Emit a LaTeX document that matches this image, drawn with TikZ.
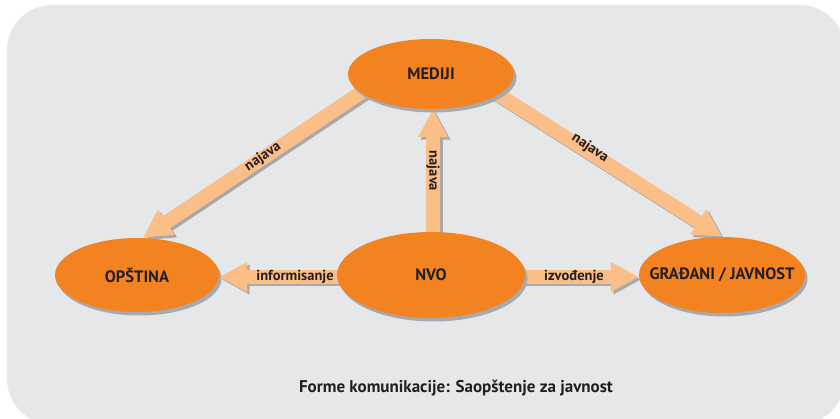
\documentclass[tikz,border=0pt]{standalone}
\usepackage{fontspec}
\setmainfont{PT Sans}
\usetikzlibrary{arrows.meta,shadows,shapes.geometric,calc}
\definecolor{bgc}{HTML}{E6E7E8}
\definecolor{orng}{HTML}{F38221}
\definecolor{peach}{HTML}{FBBE86}
\definecolor{shd}{HTML}{A7A9AC}
\definecolor{txt}{HTML}{231F20}
\pgfdeclarelayer{back}
\pgfsetlayers{back,main}
\begin{document}
\begin{tikzpicture}[x=1pt,y=-1pt,
  ell/.style={ellipse, fill=orng, draw=none, text=txt, inner sep=0pt,
    font=\bfseries\fontsize{16.5}{19}\selectfont,
    drop shadow={shadow xshift=2.5pt, shadow yshift=-3.5pt, fill=shd, opacity=1}},
  fatarrow/.style={line width=14pt, draw=peach, shorten <=-12pt,
    -{Triangle[length=28pt,width=28pt]}},
  fatshadow/.style={line width=14pt, draw=shd, shorten <=-12pt,
    -{Triangle[length=28pt,width=28pt]},
    transform canvas={shift={(2.5pt,-2.5pt)}}},
  lbl/.style={font=\bfseries\fontsize{14.5}{16}\selectfont, text=txt, inner sep=0pt},
]
\useasboundingbox (0,0) rectangle (840,419);

\node[ell, minimum width=166pt, minimum height=70pt] (mediji) at (431,74) {\makebox[0pt]{MEDIJI}};
\node[ell, minimum width=164pt, minimum height=74pt] (opstina) at (137,275) {\makebox[0pt]{OPŠTINA}};
\node[ell, minimum width=188pt, minimum height=86pt] (nvo) at (431,275) {\makebox[0pt]{NVO}};
\node[ell, minimum width=166pt, minimum height=76pt] (gradjani) at (722,275) {\makebox[0pt]{GRAĐANI / JAVNOST}};

\begin{pgfonlayer}{back}
  \fill[bgc, rounded corners=45pt] (7,5) rectangle (845,424);
  \draw[fatshadow] ([yshift=-2pt]nvo.west) -- ([yshift=-2pt]opstina.east);
  \draw[fatshadow] ([yshift=-2pt]nvo.east) -- ([yshift=-2pt]gradjani.west);
  \draw[fatshadow] ([xshift=2pt]nvo.north) -- ([xshift=2pt]mediji.south);
  \draw[fatshadow] (mediji.195) -- ([xshift=6pt]opstina.north);
  \draw[fatshadow] (mediji.343) -- (gradjani.north);
  \draw[fatarrow] ([yshift=-2pt]nvo.west) -- ([yshift=-2pt]opstina.east);
  \draw[fatarrow] ([yshift=-2pt]nvo.east) -- ([yshift=-2pt]gradjani.west);
  \draw[fatarrow] ([xshift=2pt]nvo.north) -- ([xshift=2pt]mediji.south);
  \draw[fatarrow] (mediji.195) -- ([xshift=6pt]opstina.north);
  \draw[fatarrow] (mediji.343) -- (gradjani.north);
\end{pgfonlayer}

\node[lbl] (linf) at (295,277) {informisanje};
\node[lbl] (lizv) at (574,277) {izvođenje};
\node[lbl, rotate=-90] (lnv) at (433,171) {najava};
\node[lbl, rotate=34.6] (lnl) at (263,157) {najava};
\node[lbl, rotate=-33.3] (lnr) at (590,148) {najava};
\node[text=txt, inner sep=0pt, font=\bfseries\fontsize{17}{20}\selectfont] (cap) at (456,388) {Forme komunikacije: Saopštenje za javnost};
\end{tikzpicture}
\end{document}
